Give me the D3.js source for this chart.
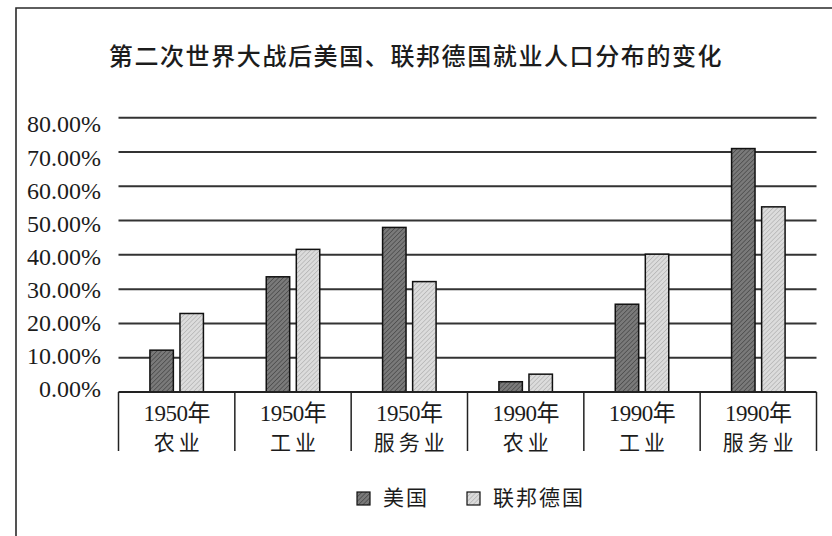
<!DOCTYPE html>
<html>
<head>
<meta charset="utf-8">
<script src="https://cdn.jsdelivr.net/npm/d3@7"></script>
<style>
  body { margin: 0; background: #fff; }
  svg { display: block; }
</style>
</head>
<body>
<svg id="chart" width="832" height="536"></svg>
<script>
// data
const years = ["1950年", "1950年", "1950年", "1990年", "1990年", "1990年"];
const sectors = ["农业", "工业", "服务业", "农业", "工业", "服务业"];
const series = ["美国", "联邦德国"];
const usa = [12.2, 33.6, 48.0, 3.0, 25.6, 71.0];
const frg = [22.9, 41.6, 32.2, 5.2, 40.2, 54.0];
const yTicks = [0, 10, 20, 30, 40, 50, 60, 70, 80];

const svg = d3.select("#chart");
const ink = "#1c1c1c";
const serif = "'Liberation Serif', 'Noto Sans CJK SC', serif";
const cjk = "'Noto Sans CJK SC', sans-serif";

// hatch patterns for the two series
const defs = svg.append("defs");
function hatch(id, bg, line){
  let p = defs.append("pattern")
    .attr("id", id)
    .attr("patternUnits", "userSpaceOnUse")
    .attr("width", 3.2).attr("height", 3.2)
    .attr("patternTransform", "rotate(45)");
  p.append("rect").attr("width", 3.2).attr("height", 3.2).attr("fill", bg);
  p.append("line").attr("x1", 0).attr("y1", 0).attr("x2", 0).attr("y2", 3.2)
    .attr("stroke", line).attr("stroke-width", 1.1);
}
hatch("hUSA", "#7a7a7a", "#3a3a3a");
hatch("hFRG", "#dcdcdc", "#a8a8a8");
const fills = ["url(#hUSA)", "url(#hFRG)"];

// outer frame of the scanned figure
svg.append("path")
  .attr("d", "M16,536 L16,8 L832,8")
  .attr("fill", "none").attr("stroke", "#2a2a2a").attr("stroke-width", 1.6);

// title
svg.append("text")
  .attr("x", 416).attr("y", 65)
  .attr("text-anchor", "middle")
  .attr("font-family", cjk).attr("font-size", 24).attr("letter-spacing", 1.6)
  .attr("font-weight", 500)
  .attr("fill", ink)
  .text("第二次世界大战后美国、联邦德国就业人口分布的变化");

// scales
const idx = d3.range(years.length);
const x0 = d3.scaleBand().domain(idx).range([118.5, 816.5]).padding(0);
const x1 = d3.scaleBand().domain(series).range([0, 53.5]).paddingInner(0.22);
const y = d3.scaleLinear().domain([0, 80]).range([392, 117.7]);
// tick labels on the scan drift a bit from the grid lines
const yLab = d3.scaleLinear().domain([0, 80]).range([389, 124]);

// grid lines
svg.append("g").selectAll("line")
  .data(yTicks.filter(d => d > 0))
  .join("line")
  .attr("x1", x0.range()[0]).attr("x2", x0.range()[1])
  .attr("y1", d => y(d)).attr("y2", d => y(d))
  .attr("stroke", "#333").attr("stroke-width", 2);

// y tick labels
svg.append("g").selectAll("text")
  .data(yTicks)
  .join("text")
  .attr("x", 101).attr("y", d => yLab(d))
  .attr("dy", "0.35em")
  .attr("text-anchor", "end")
  .attr("font-family", serif).attr("font-size", 24)
  .attr("fill", ink)
  .text(d => d3.format(".2f")(d) + "%");

// bars
const groups = svg.append("g").selectAll("g")
  .data(idx)
  .join("g")
  .attr("transform", i => `translate(${x0(i) + (x0.bandwidth() - 53.5) / 2},0)`);

groups.selectAll("rect")
  .data(i => [usa[i], frg[i]].map((v, k) => ({ v, k })))
  .join("rect")
  .attr("x", d => x1(series[d.k]))
  .attr("y", d => y(d.v))
  .attr("width", x1.bandwidth())
  .attr("height", d => y(0) - y(d.v))
  .attr("fill", d => fills[d.k])
  .attr("stroke", "#111").attr("stroke-width", 1.5);

// category table under the plot
svg.append("line")
  .attr("x1", x0.range()[0]).attr("x2", x0.range()[1])
  .attr("y1", y(0)).attr("y2", y(0))
  .attr("stroke", "#222").attr("stroke-width", 2);

svg.append("g").selectAll("line")
  .data(d3.range(years.length + 1))
  .join("line")
  .attr("x1", i => x0.range()[0] + i * x0.step())
  .attr("x2", i => x0.range()[0] + i * x0.step())
  .attr("y1", y(0)).attr("y2", 451)
  .attr("stroke", "#222").attr("stroke-width", 1.5);

const cats = svg.append("g").selectAll("g")
  .data(idx)
  .join("g")
  .attr("transform", i => `translate(${x0(i) + x0.bandwidth() / 2},0)`);

cats.append("text")
  .attr("y", 421)
  .attr("text-anchor", "middle")
  .attr("font-family", serif).attr("font-size", 23)
  .attr("letter-spacing", -0.5)
  .attr("fill", ink)
  .text(i => years[i]);

cats.append("text")
  .attr("y", 450)
  .attr("dx", 2)
  .attr("text-anchor", "middle")
  .attr("font-family", cjk).attr("font-size", 21)
  .attr("letter-spacing", 4)
  .attr("fill", ink)
  .text(i => sectors[i]);

// legend
const legend = svg.append("g").selectAll("g")
  .data(series)
  .join("g")
  .attr("transform", (d, k) => `translate(${[357, 467][k]},492)`);

legend.append("rect")
  .attr("width", 13).attr("height", 13)
  .attr("fill", (d, k) => fills[k])
  .attr("stroke", "#111").attr("stroke-width", 1.2);

legend.append("text")
  .attr("x", 26).attr("y", 13)
  .attr("font-family", cjk).attr("font-size", 21)
  .attr("letter-spacing", 2)
  .attr("fill", ink)
  .text(d => d);
</script>
</body>
</html>
